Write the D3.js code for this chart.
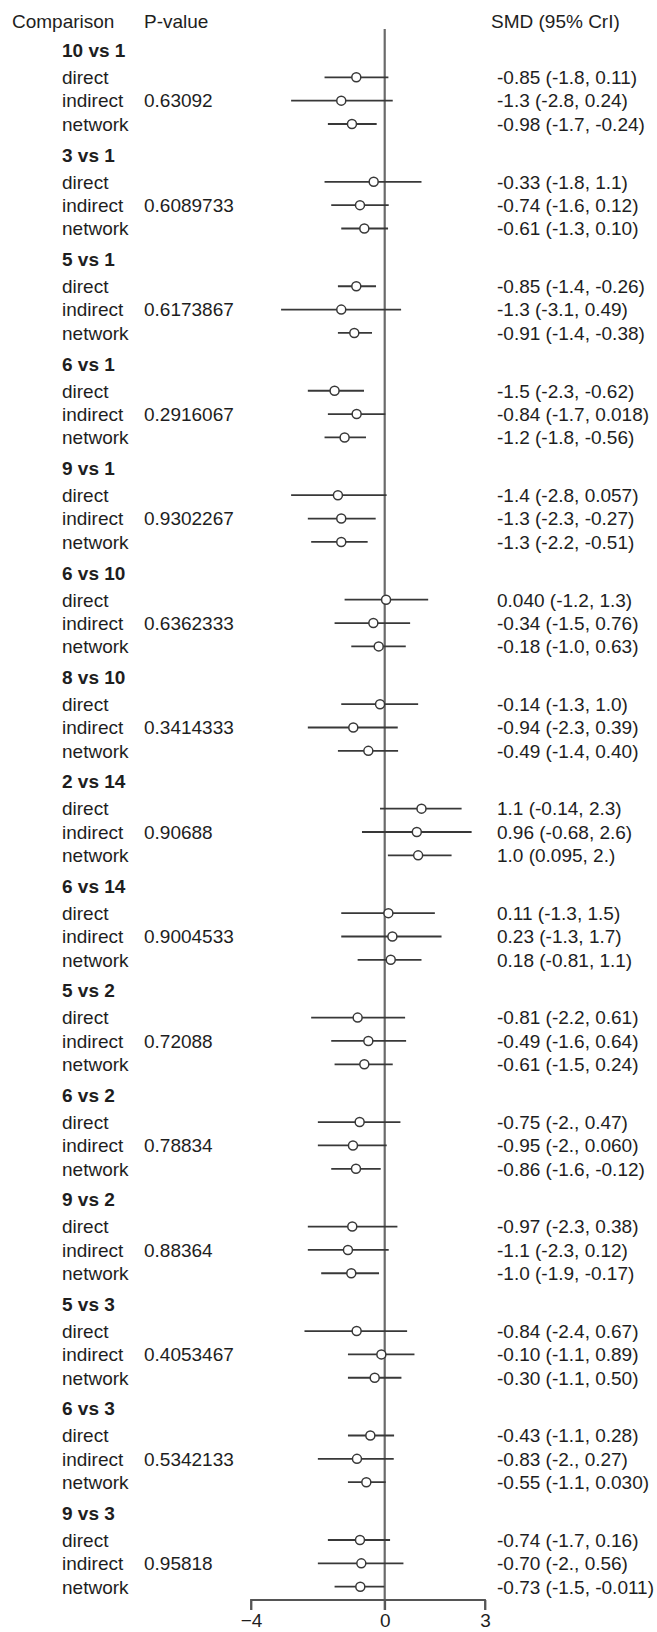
<!DOCTYPE html>
<html>
<head>
<meta charset="utf-8">
<script src="https://cdn.jsdelivr.net/npm/d3@7"></script>
<style>
  html, body { margin: 0; padding: 0; background: #fff; }
  svg { display: block; }
  text { font-family: "Liberation Sans", Arial, Helvetica, sans-serif; fill: #1e1e1e; }
</style>
</head>
<body>
<svg id="chart" width="657" height="1632"></svg>
<script>
// ---------- DATA ----------
const comparisons = ["10 vs 1","3 vs 1","5 vs 1","6 vs 1","9 vs 1","6 vs 10","8 vs 10","2 vs 14","6 vs 14","5 vs 2","6 vs 2","9 vs 2","5 vs 3","6 vs 3","9 vs 3"];
const pValues = ["0.63092","0.6089733","0.6173867","0.2916067","0.9302267","0.6362333","0.3414333","0.90688","0.9004533","0.72088","0.78834","0.88364","0.4053467","0.5342133","0.95818"];
const evidenceTypes = ["direct","indirect","network"];

// estimates per comparison: [direct, indirect, network]
const estimate = [
  [-0.85,-1.3,-0.98],[-0.33,-0.74,-0.61],[-0.85,-1.3,-0.91],[-1.5,-0.84,-1.2],[-1.4,-1.3,-1.3],
  [0.040,-0.34,-0.18],[-0.14,-0.94,-0.49],[1.1,0.96,1.0],[0.11,0.23,0.18],[-0.81,-0.49,-0.61],
  [-0.75,-0.95,-0.86],[-0.97,-1.1,-1.0],[-0.84,-0.10,-0.30],[-0.43,-0.83,-0.55],[-0.74,-0.70,-0.73]
];
const lower = [
  [-1.8,-2.8,-1.7],[-1.8,-1.6,-1.3],[-1.4,-3.1,-1.4],[-2.3,-1.7,-1.8],[-2.8,-2.3,-2.2],
  [-1.2,-1.5,-1.0],[-1.3,-2.3,-1.4],[-0.14,-0.68,0.095],[-1.3,-1.3,-0.81],[-2.2,-1.6,-1.5],
  [-2.0,-2.0,-1.6],[-2.3,-2.3,-1.9],[-2.4,-1.1,-1.1],[-1.1,-2.0,-1.1],[-1.7,-2.0,-1.5]
];
const upper = [
  [0.11,0.24,-0.24],[1.1,0.12,0.10],[-0.26,0.49,-0.38],[-0.62,0.018,-0.56],[0.057,-0.27,-0.51],
  [1.3,0.76,0.63],[1.0,0.39,0.40],[2.3,2.6,2.0],[1.5,1.7,1.1],[0.61,0.64,0.24],
  [0.47,0.060,-0.12],[0.38,0.12,-0.17],[0.67,0.89,0.50],[0.28,0.27,0.030],[0.16,0.56,-0.011]
];
const smdLabels = [
  ["-0.85 (-1.8, 0.11)","-1.3 (-2.8, 0.24)","-0.98 (-1.7, -0.24)"],
  ["-0.33 (-1.8, 1.1)","-0.74 (-1.6, 0.12)","-0.61 (-1.3, 0.10)"],
  ["-0.85 (-1.4, -0.26)","-1.3 (-3.1, 0.49)","-0.91 (-1.4, -0.38)"],
  ["-1.5 (-2.3, -0.62)","-0.84 (-1.7, 0.018)","-1.2 (-1.8, -0.56)"],
  ["-1.4 (-2.8, 0.057)","-1.3 (-2.3, -0.27)","-1.3 (-2.2, -0.51)"],
  ["0.040 (-1.2, 1.3)","-0.34 (-1.5, 0.76)","-0.18 (-1.0, 0.63)"],
  ["-0.14 (-1.3, 1.0)","-0.94 (-2.3, 0.39)","-0.49 (-1.4, 0.40)"],
  ["1.1 (-0.14, 2.3)","0.96 (-0.68, 2.6)","1.0 (0.095, 2.)"],
  ["0.11 (-1.3, 1.5)","0.23 (-1.3, 1.7)","0.18 (-0.81, 1.1)"],
  ["-0.81 (-2.2, 0.61)","-0.49 (-1.6, 0.64)","-0.61 (-1.5, 0.24)"],
  ["-0.75 (-2., 0.47)","-0.95 (-2., 0.060)","-0.86 (-1.6, -0.12)"],
  ["-0.97 (-2.3, 0.38)","-1.1 (-2.3, 0.12)","-1.0 (-1.9, -0.17)"],
  ["-0.84 (-2.4, 0.67)","-0.10 (-1.1, 0.89)","-0.30 (-1.1, 0.50)"],
  ["-0.43 (-1.1, 0.28)","-0.83 (-2., 0.27)","-0.55 (-1.1, 0.030)"],
  ["-0.74 (-1.7, 0.16)","-0.70 (-2., 0.56)","-0.73 (-1.5, -0.011)"]
];
const tickValues = [-4, 0, 3];
const headers = ["Comparison", "P-value", "SMD (95% CrI)"];

// ---------- LAYOUT ----------
const svg = d3.select("#chart");
const FS = 19;
const x = d3.scaleLinear().domain([-4, 3]).range([251, 485]);
const yGroup = d3.scaleLinear().domain([0, comparisons.length - 1]).range([77.3, 1540]);
const yRow = d3.scalePoint().domain(evidenceTypes).range([0, 46.7]);
const headerOffset = -27;
const colLabel = 62, colP = 144, colSMD = 497;
const lineColor = "#383838";
const dy = "0.36em";

// column headers
svg.append("text").attr("x", 12).attr("y", 21).attr("dy", dy).attr("font-size", FS).text(headers[0]);
svg.append("text").attr("x", colP).attr("y", 21).attr("dy", dy).attr("font-size", FS).text(headers[1]);
svg.append("text").attr("x", 491).attr("y", 21).attr("dy", dy).attr("font-size", FS).text(headers[2]);

// zero reference line
svg.append("line")
  .attr("x1", x(0)).attr("x2", x(0))
  .attr("y1", 29).attr("y2", 1610)
  .attr("stroke", "#6a6a6a").attr("stroke-width", 2.2);

// rows
const rows = [];
comparisons.forEach((c, i) => {
  evidenceTypes.forEach((t, j) => {
    rows.push({ gi: i, type: t, est: estimate[i][j], lo: lower[i][j], hi: upper[i][j], lab: smdLabels[i][j] });
  });
});

const groups = svg.selectAll("g.grp").data(comparisons).join("g").attr("class", "grp");
groups.append("text")
  .attr("x", colLabel).attr("y", (d, i) => yGroup(i) + headerOffset)
  .attr("dy", dy).attr("font-size", FS).attr("font-weight", "bold")
  .text(d => d);
groups.append("text")
  .attr("x", colP).attr("y", (d, i) => yGroup(i) + yRow("indirect"))
  .attr("dy", dy).attr("font-size", FS)
  .text((d, i) => pValues[i]);

const rowY = d => yGroup(d.gi) + yRow(d.type);

svg.selectAll("text.rowlab").data(rows).join("text").attr("class", "rowlab")
  .attr("x", colLabel).attr("y", rowY).attr("dy", dy).attr("font-size", FS)
  .text(d => d.type);

svg.selectAll("text.smd").data(rows).join("text").attr("class", "smd")
  .attr("x", colSMD).attr("y", rowY).attr("dy", dy).attr("font-size", FS)
  .text(d => d.lab);

svg.selectAll("line.ci").data(rows).join("line").attr("class", "ci")
  .attr("x1", d => x(d.lo)).attr("x2", d => x(d.hi))
  .attr("y1", rowY).attr("y2", rowY)
  .attr("stroke", lineColor).attr("stroke-width", 1.8);

svg.selectAll("circle.pt").data(rows).join("circle").attr("class", "pt")
  .attr("cx", d => x(d.est)).attr("cy", rowY).attr("r", 4.5)
  .attr("fill", "#fff").attr("stroke", lineColor).attr("stroke-width", 1.5);

// bottom axis
const axis = d3.axisBottom(x).tickValues(tickValues).tickSize(10).tickPadding(4).tickFormat(d3.format("d"));
const ax = svg.append("g").attr("transform", "translate(0,1600)").call(axis);
ax.select(".domain").attr("stroke", "#555").attr("stroke-width", 1.8).attr("d", `M${x(-4)},10V0H${x(3)}V10`);
ax.selectAll(".tick line").attr("stroke", "#555").attr("stroke-width", 1.8);
ax.selectAll(".tick text").attr("font-size", FS).attr("fill", "#1e1e1e")
  .attr("font-family", "Liberation Sans, Arial, sans-serif");
</script>
</body>
</html>
